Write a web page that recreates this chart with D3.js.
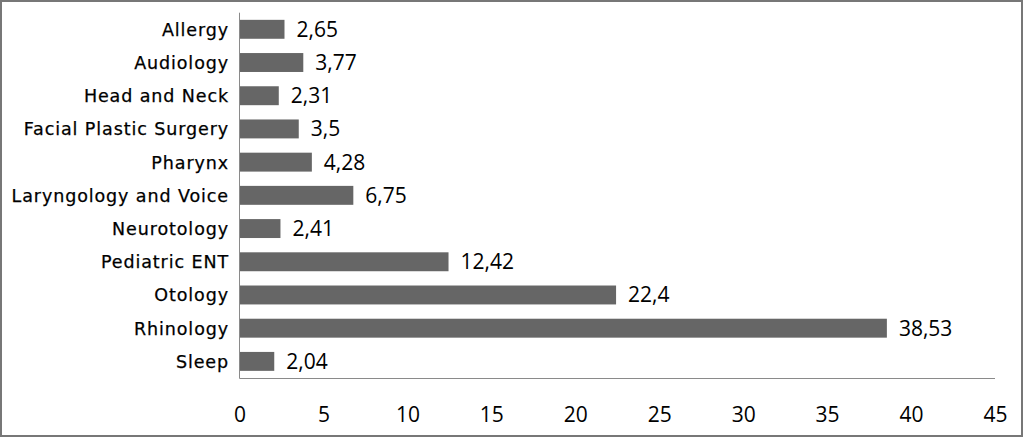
<!DOCTYPE html>
<html><head><meta charset="utf-8">
<script src="https://cdn.jsdelivr.net/npm/d3@7"></script>
<style>
html,body{margin:0;padding:0;background:#fff;}
svg{display:block;}
.cat{font-family:"DejaVu Sans",sans-serif;font-size:17.5px;letter-spacing:0.9px;fill:#000;stroke:#000;stroke-width:0.25px;}
.num{font-family:"Open Sans",sans-serif;font-size:21px;fill:#000;}
</style>
</head><body>
<svg id="chart" width="1024" height="438"></svg>
<script>
const categories = ["Allergy","Audiology","Head and Neck","Facial Plastic Surgery","Pharynx","Laryngology and Voice","Neurotology","Pediatric ENT","Otology","Rhinology","Sleep"];
const values = [2.65,3.77,2.31,3.5,4.28,6.75,2.41,12.42,22.4,38.53,2.04];
const valueLabels = ["2,65","3,77","2,31","3,5","4,28","6,75","2,41","12,42","22,4","38,53","2,04"];
const tickValues = [0,5,10,15,20,25,30,35,40,45];

const svg = d3.select("#chart");
svg.append("rect").attr("x",1).attr("y",1).attr("width",1021).attr("height",435)
  .attr("fill","#fff").attr("stroke","#777").attr("stroke-width",2);

const x = d3.scaleLinear().domain([0,45]).range([239.5,995]);
const y = d3.scaleBand().domain(categories).range([12.7,378]).paddingInner(0.43).paddingOuter(0.215);

const data = categories.map((c,i)=>({c, v: values[i], l: valueLabels[i]}));

svg.append("g").selectAll("rect").data(data).join("rect")
  .attr("x", x(0)+0.5)
  .attr("y", d=>y(d.c))
  .attr("width", d=>x(d.v)-x(0))
  .attr("height", y.bandwidth())
  .attr("fill","#666666");

svg.append("line").attr("x1",x(0)).attr("x2",x(0)).attr("y1",12.7).attr("y2",378.5)
  .attr("stroke","#8a8a8a").attr("stroke-width",1);
svg.append("line").attr("x1",x(0)).attr("x2",x(45)).attr("y1",378.5).attr("y2",378.5)
  .attr("stroke","#8a8a8a").attr("stroke-width",1);

svg.append("g").selectAll("text").data(data).join("text")
  .attr("class","cat")
  .attr("x", 229)
  .attr("y", d=>y(d.c)+y.bandwidth()/2+6.5)
  .attr("text-anchor","end")
  .text(d=>d.c);

svg.append("g").selectAll("text").data(data).join("text")
  .attr("class","num")
  .attr("x", d=>x(d.v)+12.5)
  .attr("y", d=>y(d.c)+y.bandwidth()/2+7.5)
  .text(d=>d.l);

const xAxis = d3.axisBottom(x).tickValues(tickValues).tickSize(0).tickPadding(0).tickFormat(d3.format("d"));
const gx = svg.append("g").attr("transform","translate(0,408)").call(xAxis);
gx.select(".domain").remove();
gx.attr("font-family",null).attr("font-size",null);
gx.selectAll("text")
  .attr("class","num")
  .attr("dy","0")
  .attr("y",14);
</script>
</body></html>
